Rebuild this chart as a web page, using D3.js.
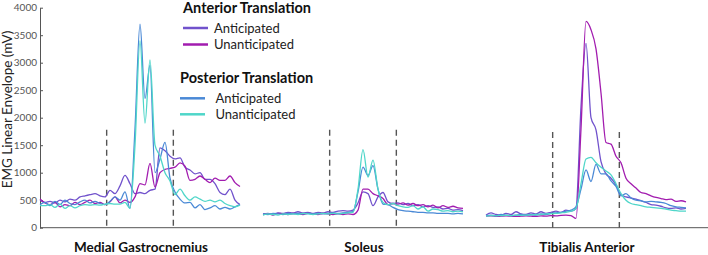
<!DOCTYPE html>
<html>
<head>
    <script src="https://cdnjs.cloudflare.com/ajax/libs/d3/7.8.5/d3.min.js"></script>
    <style>
        body { margin: 0; background: #fff; }
        text { font-family: Lato, "Open Sans", sans-serif; }
        .axis path, .axis line { stroke: #555; }
        .axis text { fill: #555; font-size: 10px; font-family: Lato, sans-serif; }
        .emg { fill: none; stroke-width: 1.3px; }
        .cue { stroke: #555; stroke-width: 1.4px; stroke-dasharray: 6,4; }
    </style>
</head>
<body>
    <div id="chart"></div>
    <script>
        const width = 708, height = 255;

        // muscles (one panel each) and time samples within a panel (dashed cues at 1 and 2)
        const muscles = ["Medial Gastrocnemius", "Soleus", "Tibialis Anterior"];
        const time = d3.range(41).map(i => i * 0.075);
        const cueTimes = [1, 2];
        const cueTop = [1780, 1780, 1740];
        const yTicks = [0, 500, 1000, 1500, 2000, 2500, 3000, 3500, 4000];

        // Medial Gastrocnemius
        const mgAntAnt = [500,460,480,450,500,470,520,500,560,580,600,620,580,560,680,620,760,950,800,620,640,620,680,700,1450,1400,1300,1250,1270,1100,1050,980,1000,880,880,800,640,600,700,500,420];
        const mgAntUnant = [520,450,420,460,380,420,400,460,420,460,500,440,460,420,470,560,450,500,460,560,800,780,1170,740,1000,1060,1080,1100,1180,1120,860,880,940,880,820,900,860,860,940,820,750];
        const mgPostAnt = [420,460,400,480,420,500,440,420,470,500,450,480,440,420,480,560,500,650,350,1800,3700,2350,2950,1000,1250,1550,900,650,520,450,460,360,420,330,360,400,340,370,340,380,420];
        const mgPostUnant = [400,400,420,370,430,350,400,360,400,420,410,420,410,430,440,430,430,460,350,1500,3400,1900,3050,1500,1300,1000,850,600,700,580,500,560,520,480,500,470,500,440,400,380,410];

        // Soleus
        const solAntAnt = [250,260,240,270,260,280,270,290,270,280,260,280,270,290,280,300,310,300,320,450,650,620,400,560,640,470,440,450,420,440,400,420,380,400,370,380,340,350,320,330,310];
        const solAntUnant = [240,250,230,260,250,240,260,250,240,260,250,240,260,250,240,250,240,250,240,320,700,700,620,580,530,420,440,430,450,410,440,400,420,380,410,360,400,370,390,360,350];
        const solPostAnt = [250,240,260,250,240,260,250,260,250,260,250,260,250,260,270,260,270,280,290,650,1100,950,1130,700,430,420,370,330,310,300,290,280,280,270,270,260,260,260,250,260,250];
        const solPostUnant = [230,250,240,230,250,240,250,240,260,250,240,250,260,250,260,250,260,270,280,700,1420,920,1230,700,460,420,440,400,380,370,400,340,380,300,340,330,300,310,290,300,290];

        // Tibialis Anterior
        const taAntAnt = [230,270,240,230,260,240,290,250,240,270,250,290,260,280,300,280,320,300,350,2200,3350,2000,1780,1200,980,900,780,600,560,540,520,490,460,420,410,390,360,350,360,340,350];
        const taAntUnant = [210,215,205,210,215,210,205,210,215,210,205,215,210,220,215,225,230,220,170,1800,3750,3600,3250,2450,1550,1520,1300,1180,900,800,720,640,620,580,550,530,510,520,480,490,470];
        const taPostAnt = [220,230,220,240,230,220,230,240,230,240,230,250,240,260,270,280,300,320,380,700,1050,840,1150,980,980,850,750,580,620,540,500,490,470,480,470,460,440,400,380,370,360];
        const taPostUnant = [210,220,215,220,225,220,230,225,230,235,240,240,250,255,260,270,280,300,350,800,1250,1280,1180,1100,1030,960,800,620,500,440,420,400,380,370,360,350,340,320,310,300,300];

        const conditions = [
            { name: "Anticipated", group: "Anterior Translation", color: "#7152cc", values: [mgAntAnt, solAntAnt, taAntAnt] },
            { name: "Unanticipated", group: "Anterior Translation", color: "#a21caf", values: [mgAntUnant, solAntUnant, taAntUnant] },
            { name: "Anticipated", group: "Posterior Translation", color: "#4a89d6", values: [mgPostAnt, solPostAnt, taPostAnt] },
            { name: "Unanticipated", group: "Posterior Translation", color: "#4fd6c9", values: [mgPostUnant, solPostUnant, taPostUnant] }
        ];

        const panelStep = 3.345;
        const margin = { left: 40, top: 7.7, bottom: 27.3 };

        const svg = d3.select("#chart").append("svg")
            .attr("width", width).attr("height", height);

        const x = d3.scaleLinear().domain([0, 10.02]).range([margin.left, width]);
        const y = d3.scaleLinear().domain([0, 4000]).range([height - margin.bottom, margin.top]);

        // axes
        svg.append("g")
            .attr("class", "axis")
            .attr("transform", `translate(${margin.left},0)`)
            .call(d3.axisLeft(y).tickValues(yTicks).tickFormat(d3.format("d"))
                .tickSize(-3).tickPadding(3).tickSizeOuter(0));

        svg.append("line")
            .attr("x1", x(0)).attr("x2", x(10.02))
            .attr("y1", y(0)).attr("y2", y(0))
            .attr("stroke", "#555");

        svg.append("text")
            .attr("transform", `translate(12,${y(2150)}) rotate(-90)`)
            .attr("text-anchor", "middle")
            .attr("font-size", "13.5px")
            .attr("fill", "#222")
            .text("EMG Linear Envelope (mV)");

        // cue lines
        muscles.forEach((m, p) => {
            cueTimes.forEach(t => {
                svg.append("line")
                    .attr("class", "cue")
                    .attr("x1", x(p * panelStep + t)).attr("x2", x(p * panelStep + t))
                    .attr("y1", y(cueTop[p])).attr("y2", y(0));
            });
            svg.append("text")
                .attr("x", x(p * panelStep + 1.5) + 1)
                .attr("y", 251.5)
                .attr("text-anchor", "middle")
                .attr("font-size", "13.5px")
                .attr("font-weight", "bold")
                .attr("fill", "#111")
                .text(m);
        });

        // EMG traces
        const line = d3.line()
            .x(d => x(d[0]))
            .y(d => y(d[1]))
            .curve(d3.curveMonotoneX);

        conditions.forEach(c => {
            c.values.forEach((vals, p) => {
                svg.append("path")
                    .attr("class", "emg")
                    .attr("stroke", c.color)
                    .attr("d", line(vals.map((v, i) => [p * panelStep + time[i], v])));
            });
        });

        // legend
        const legend = svg.append("g");
        const groups = [
            { title: "Anterior Translation", tx: 183, ty: 13, lx: 183, textX: 214, rows: [28, 44.5] },
            { title: "Posterior Translation", tx: 180, ty: 83, lx: 180, textX: 215.5, rows: [98.3, 114.3] }
        ];
        groups.forEach(g => {
            legend.append("text")
                .attr("x", g.tx).attr("y", g.ty)
                .attr("font-size", "14.5px").attr("font-weight", "bold")
                .attr("fill", "#111")
                .text(g.title);
            conditions.filter(c => c.group === g.title).forEach((c, i) => {
                legend.append("line")
                    .attr("x1", g.lx).attr("x2", g.lx + 25)
                    .attr("y1", g.rows[i]).attr("y2", g.rows[i])
                    .attr("stroke", c.color).attr("stroke-width", 2.5);
                legend.append("text")
                    .attr("x", g.textX).attr("y", g.rows[i] + 4.5)
                    .attr("font-size", "13px")
                    .attr("fill", "#222")
                    .text(c.name);
            });
        });
    </script>
</body>
</html>
